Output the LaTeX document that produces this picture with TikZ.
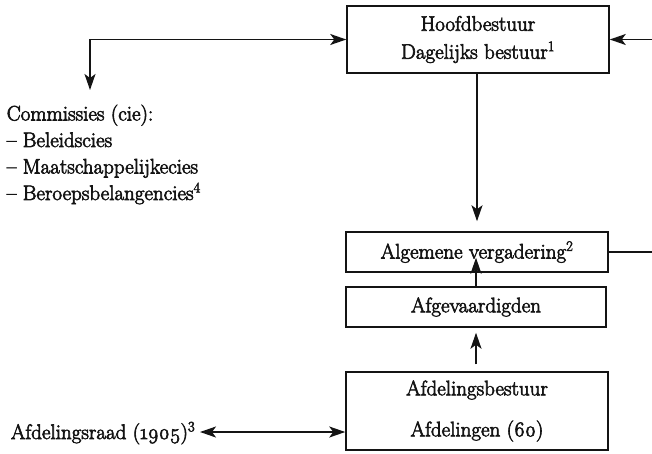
\documentclass[tikz,border=0pt]{standalone}
\usepackage{fontspec}
\setmainfont{Latin Modern Roman}[UprightFeatures={RawFeature={embolden=3}}]
\usetikzlibrary{arrows.meta}
\definecolor{cink}{RGB}{20,20,20}
\tikzset{org/.style={x=1pt,y=-1pt,line width=1.5pt,draw=cink,text=cink,
    font=\fontsize{21}{26}\selectfont,
    >={Stealth[length=16pt,width=11pt,inset=4pt]}},
  orgbox/.style={draw,rectangle,minimum width=262pt,inner sep=2pt,align=center},
  orgtext/.style={inner sep=0pt,align=left}}

\begin{document}
\begin{tikzpicture}[org]
    \useasboundingbox (0,0) rectangle (652,453);
    \coordinate (edge) at (652,0);
    % boxes
    \node[orgbox,minimum height=67pt,font=\fontsize{21}{28}\selectfont] (hb) at (478,39.5)
      {Hoofdbestuur\\Dagelijks bestuur\textsuperscript{1}};
    \node[orgbox,minimum height=40pt] (av) at (477,252) {Algemene vergadering\textsuperscript{2}};
    \node[orgbox,minimum height=40pt,minimum width=260pt] (afg) at (476,307) {Afgevaardigden};
    \node[orgbox,minimum height=78pt] (afd) at (477,411)
      {Afdelingsbestuur\\[15pt]Afdelingen (\oldstylenums{60})};
    % loose texts
    \node[orgtext,anchor=north west,font=\fontsize{21}{26.5}\selectfont] (cie) at (6,104)
      {Commissies (cie):\\-- Beleidscies\\-- Maatschappelijkecies\\-- Beroepsbelangencies\textsuperscript{4}};
    \node[orgtext,anchor=base east] (raad) at (196,439) {Afdelingsraad (\oldstylenums{1905})\textsuperscript{3}};
    \coordinate (ciein) at (90,90);
    % connectors
    \draw[<->] (ciein) |- (hb.west);
    \draw[->,shorten >=10pt] (hb.south -| av.north) -- (av.north);
    \draw[->,shorten >=-15pt] (afg.north) -- (afg.north |- av.south);
    \draw[->,shorten <=7pt,shorten >=5pt] (afd.north -| afg.south) -- (afg.south);
    \draw[<->,shorten <=4pt] (raad.east |- 0,432) -- (afd.west |- 0,432);
    \draw (av.east) -- (av.east -| edge);
    \draw[->] (hb.east -| edge) -- (hb.east);
  \end{tikzpicture}
\end{document}
